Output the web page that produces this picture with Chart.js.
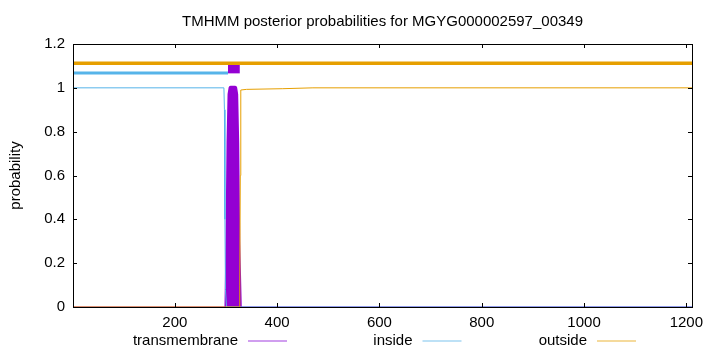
<!DOCTYPE html>
<html>
<head>
<meta charset="utf-8">
<script src="https://cdn.jsdelivr.net/npm/chart.js@4.4.1/dist/chart.umd.min.js"></script>
<style>
  html, body { margin: 0; padding: 0; background: #fff; }
  #wrap { width: 720px; height: 352px; }
</style>
</head>
<body>
<div id="wrap"><canvas id="tmhmm_chart" width="720" height="352"></canvas></div>
<script>
const titleText = 'TMHMM posterior probabilities for MGYG000002597_00349';
const yAxisTitle = 'probability';
const seqStart = 1;
const seqEnd = 1211;
const xTickValues = [200, 400, 600, 800, 1000, 1200];
const yTickValues = [0, 0.2, 0.4, 0.6, 0.8, 1, 1.2];

// posterior curves (residue position -> probability)
const tmPos = [1, 301, 303, 305, 307, 309, 318, 320, 322, 324, 327, 1211];
const tmVal = [0, 0, 0.3, 0.75, 0.97, 1, 1, 0.97, 0.75, 0.3, 0, 0];
const insidePos = [1, 296, 297, 298, 299, 301, 1211];
const insideVal = [1, 1, 0.9, 0.4, 0.08, 0, 0];
const outsidePos = [1, 326, 327, 328, 329, 340, 410, 470, 1211];
const outsideVal = [0, 0, 0.1, 0.6, 0.99, 0.993, 0.996, 1, 1];

// predicted topology bars drawn above the curves
const outsideBarPos = [1, 1211];
const outsideBarVal = [1.112, 1.112];
const insideBarPos = [1, 304];
const insideBarVal = [1.068, 1.068];
const tmBarPos = [304, 327];
const tmBarVal = [1.09, 1.09];

const tmColor = '#9400d3';
const insideColor = '#56b4e9';
const outsideColor = '#e69f00';
const fontFamily = "'Liberation Sans', Arial, sans-serif";
const fontSize = 15;

function pts(xs, ys) {
    return xs.map((x, i) => ({x: x, y: ys[i]}));
}

// inward ticks, border, title, y label and legend, like gnuplot
const frame = {
    id: 'frame',
    afterDatasetsDraw(chart) {
        const ctx = chart.ctx;
        const a = chart.chartArea;
        const sx = chart.scales.x, sy = chart.scales.y;
        ctx.save();
        ctx.strokeStyle = '#000';
        ctx.lineWidth = 1;
        ctx.beginPath();
        xTickValues.forEach(v => {
            const px = Math.round(sx.getPixelForValue(v)) + 0.5;
            ctx.moveTo(px, a.bottom); ctx.lineTo(px, a.bottom - 4);
            ctx.moveTo(px, a.top); ctx.lineTo(px, a.top + 4);
        });
        yTickValues.forEach(v => {
            const py = Math.round(sy.getPixelForValue(v)) + 0.5;
            ctx.moveTo(a.left, py); ctx.lineTo(a.left + 4, py);
            ctx.moveTo(a.right, py); ctx.lineTo(a.right - 4, py);
        });
        ctx.stroke();
        ctx.strokeRect(Math.round(a.left) + 0.5, Math.round(a.top) + 0.5,
            Math.round(a.right - a.left), Math.round(a.bottom - a.top));
        ctx.restore();
    },
    afterDraw(chart) {
        const ctx = chart.ctx;
        const a = chart.chartArea;
        ctx.save();
        ctx.fillStyle = '#000';
        ctx.font = fontSize + 'px ' + fontFamily;
        ctx.textBaseline = 'middle';
        ctx.textAlign = 'center';
        ctx.fillText(titleText, (a.left + a.right) / 2, 22);
        ctx.save();
        ctx.translate(16, (a.top + a.bottom) / 2);
        ctx.rotate(-Math.PI / 2);
        ctx.fillText(yAxisTitle, 0, 0);
        ctx.restore();
        // legend
        const items = chart.data.datasets.filter(d => d.showInLegend);
        items.forEach((d, i) => {
            const right = 238 + i * 174.5;
            ctx.textAlign = 'right';
            ctx.fillStyle = '#000';
            ctx.fillText(d.label, right, 341);
            ctx.strokeStyle = d.legendColor;
            ctx.lineWidth = 1.2;
            ctx.beginPath();
            ctx.moveTo(right + 10, 341);
            ctx.lineTo(right + 49, 341);
            ctx.stroke();
        });
        ctx.restore();
    }
};

new Chart(document.getElementById('tmhmm_chart'), {
    type: 'line',
    data: {
        datasets: [
            {
                label: 'outside bar',
                data: pts(outsideBarPos, outsideBarVal),
                borderColor: outsideColor,
                borderWidth: 3.5,
                borderCapStyle: 'butt',
                order: 0
            }, {
                label: 'tm bar',
                data: pts(tmBarPos, tmBarVal),
                borderColor: tmColor,
                borderWidth: 10.5,
                borderCapStyle: 'butt',
                order: 1
            }, {
                label: 'inside bar',
                data: pts(insideBarPos, insideBarVal),
                borderColor: insideColor,
                borderWidth: 3,
                borderCapStyle: 'butt',
                order: 2
            }, {
                label: 'transmembrane',
                showInLegend: true,
                legendColor: '#a23ee0',
                data: pts(tmPos, tmVal),
                borderColor: tmColor,
                backgroundColor: tmColor,
                borderWidth: 4,
                borderJoinStyle: 'round',
                borderCapStyle: 'round',
                segment: {
                    borderWidth: c => (c.p0.parsed.y === 0 && c.p1.parsed.y === 0) ? 1 : 4
                },
                fill: 'origin',
                order: 5
            }, {
                label: 'inside',
                showInLegend: true,
                legendColor: '#7cc4ee',
                data: pts(insidePos, insideVal),
                borderColor: insideColor,
                borderWidth: 1,
                order: 4
            }, {
                label: 'outside',
                showInLegend: true,
                legendColor: '#ecb53a',
                data: pts(outsidePos, outsideVal),
                borderColor: outsideColor,
                borderWidth: 1,
                order: 3
            }
        ]
    },
    options: {
        responsive: false,
        animation: false,
        events: [],
        layout: {
            padding: {top: 44, right: 28, bottom: 0, left: 0}
        },
        elements: {
            point: {radius: 0},
            line: {tension: 0}
        },
        scales: {
            x: {
                type: 'linear',
                min: seqStart,
                max: seqEnd,
                afterFit: s => { s.height = 45; },
                afterBuildTicks: s => { s.ticks = xTickValues.map(v => ({value: v})); },
                grid: {display: false, drawTicks: false},
                border: {display: false},
                ticks: {
                    padding: 7,
                    color: '#000',
                    maxRotation: 0,
                    font: {family: fontFamily, size: fontSize},
                    callback: v => String(v)
                }
            },
            y: {
                type: 'linear',
                min: 0,
                max: 1.2,
                afterFit: s => { s.width = 73; },
                afterBuildTicks: s => { s.ticks = yTickValues.map(v => ({value: v})); },
                grid: {display: false, drawTicks: false},
                border: {display: false},
                ticks: {
                    padding: 8,
                    color: '#000',
                    font: {family: fontFamily, size: fontSize},
                    callback: v => String(+v.toFixed(1))
                }
            }
        },
        plugins: {
            legend: {display: false},
            title: {display: false},
            tooltip: {enabled: false}
        }
    },
    plugins: [frame]
});
</script>
</body>
</html>
